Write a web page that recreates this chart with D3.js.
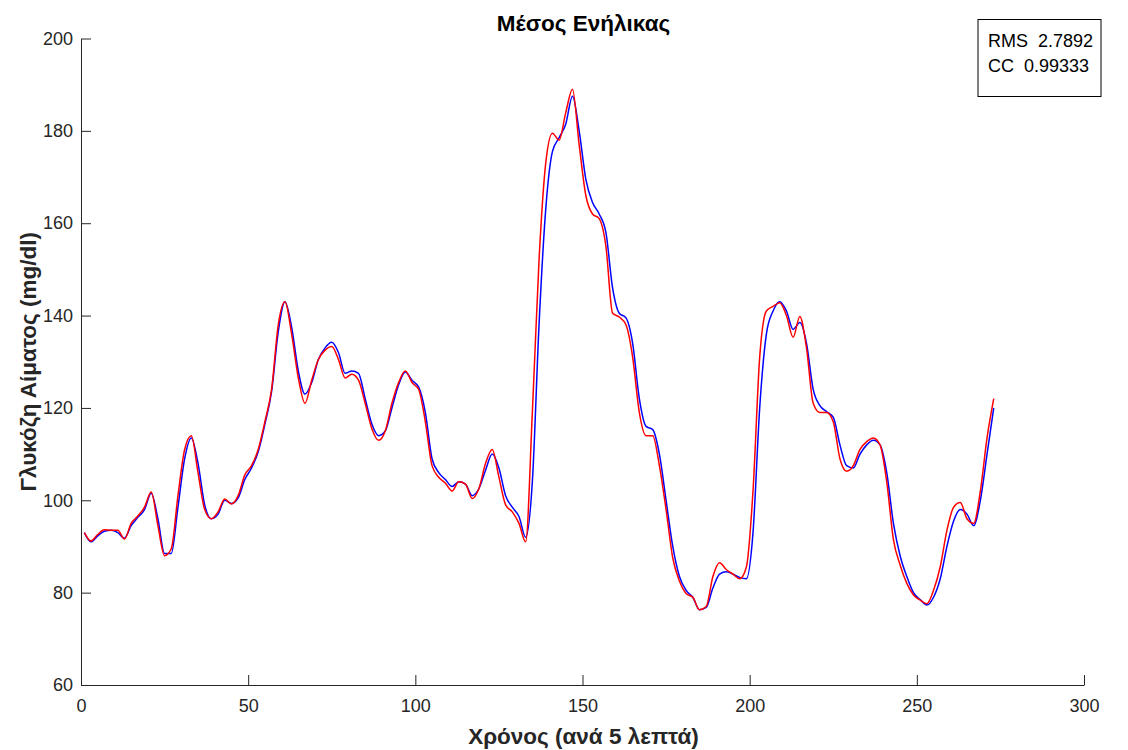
<!DOCTYPE html>
<html>
<head>
<meta charset="utf-8">
<script src="https://cdn.jsdelivr.net/npm/d3@7"></script>
<style>
  body { margin: 0; background: #fff; }
  svg { display: block; font-family: "Liberation Sans", Arial, sans-serif; }
</style>
</head>
<body>
<svg></svg>
<script>
// sample times (every 2nd 5-minute step)
const times = d3.range(1, 274, 2)

// red series (measured)
const redValues = [
  93.0, 91.2, 92.6, 93.6, 93.5, 93.5, 91.6, 95.0, 96.6, 98.5,
  101.8, 94.5, 88.0, 89.5, 101, 111, 114, 106, 98, 96,
  97.5, 100.3, 99.2, 101, 105.5, 107.5, 111, 117, 124, 138,
  143, 136, 126.5, 121, 126, 130.5, 132.5, 133.3, 130.5, 126.5,
  127.3, 126, 121, 115.5, 113, 115, 121, 125.5, 128, 125.5,
  124, 117, 107.5, 105, 103.7, 102, 104, 103.5, 100.4, 102.5,
  108, 111, 105, 99, 97.5, 95, 91, 119, 152, 173,
  179.5, 178, 184, 189, 177, 166, 162, 161, 155, 140.5,
  139.7, 138, 131, 119, 114, 114, 107.5, 98, 87.5, 82.5,
  79.8, 79, 76.3, 77, 83.5, 86.5, 85, 84, 83, 85.5,
  102, 131, 141, 142, 142.8, 140, 135.3, 139.8, 133, 121,
  119, 119, 117, 109, 106.3, 107.5, 111, 112.7, 113.5, 112,
  104, 91.5, 86, 82, 79.5, 78.4, 77.6, 80.5, 85.6, 93.5,
  98.5, 99.5, 96, 95, 102, 113.5, 122
]

// blue series (estimated)
const blueValues = [
  93.0, 91.0, 92.3, 93.3, 93.5, 93.0, 91.8, 94.5, 96.3, 98.0,
  101.5, 96, 88.5, 88.5, 98.5, 109, 113.5, 108, 99, 96,
  97, 100, 99.3, 100.5, 104.5, 107, 110.5, 116.5, 123.5, 136.5,
  143, 137.5, 128, 123, 125.5, 130.5, 133, 134.2, 132, 127.5,
  128, 127.5, 122, 116.5, 114, 115, 120, 125, 127.8, 126,
  124.5, 119, 109, 106, 104.5, 103, 104, 103.5, 101, 102.5,
  106.5, 110, 107, 101, 98.5, 96.5, 92, 104, 138, 163,
  175.5, 178.5, 181.5, 187.5, 180, 169.5, 164.5, 162, 158, 146,
  140.5, 139.5, 134, 122, 116, 115.3, 110, 100, 90, 83.5,
  80.5, 79, 76.3, 76.8, 81, 84, 84.5, 84, 83.3, 83,
  93, 120, 136, 141, 143, 141, 137, 138.5, 134, 124,
  120.5, 119.2, 118, 112, 107.5, 107, 110, 112, 113, 112,
  106, 95, 88, 83.5, 80, 78.5, 77.3, 79, 83, 90,
  95.5, 98, 97, 94.5, 100, 110, 120
]

const xTicks = [0, 50, 100, 150, 200, 250, 300]
const yTicks = [60, 80, 100, 120, 140, 160, 180, 200]
const statLabels = ['RMS', 'CC']
const statValues = ['2.7892', '0.99333']

const width = 1128
const height = 750
const plotLeft = 81
const plotRight = 1084
const plotTop = 38.5
const plotBottom = 685
const axisColor = '#262626'

const svg = d3.select('svg')
              .attr('width', width)
              .attr('height', height)

const xScale = d3.scaleLinear().domain([0, 300]).range([plotLeft, plotRight])
const yScale = d3.scaleLinear().domain([60, 200]).range([plotBottom, plotTop])

const xAxis = d3.axisBottom(xScale)
                .tickValues(xTicks)
                .tickSizeInner(-10)
                .tickSizeOuter(0)
                .tickPadding(14)

const yAxis = d3.axisLeft(yScale)
                .tickValues(yTicks)
                .tickSizeInner(-10)
                .tickSizeOuter(0)
                .tickPadding(8)

const styleAxis = g => {
  g.select('.domain').attr('stroke', axisColor)
  g.selectAll('.tick line').attr('stroke', axisColor)
  g.selectAll('.tick text')
   .attr('fill', axisColor)
   .style('font-size', '18px')
   .style('font-family', '"Liberation Sans", Arial, sans-serif')
}

svg.append('g')
   .attr('transform', `translate(0, ${plotBottom})`)
   .call(xAxis)
   .call(styleAxis)

svg.append('g')
   .attr('transform', `translate(${plotLeft}, 0)`)
   .call(yAxis)
   .call(styleAxis)

const line = values => d3.line()
  .curve(d3.curveMonotoneX)
  .x((d, i) => xScale(times[i]))
  .y(d => yScale(d))(values)

svg.append('path')
   .attr('d', line(blueValues))
   .attr('fill', 'none')
   .attr('stroke', '#0000ff')
   .attr('stroke-width', 1.5)

svg.append('path')
   .attr('d', line(redValues))
   .attr('fill', 'none')
   .attr('stroke', '#ff0000')
   .attr('stroke-width', 1.5)

// title and axis labels
svg.append('text')
   .text('Μέσος Ενήλικας')
   .attr('x', (plotLeft + plotRight) / 2 + 1)
   .attr('y', 31)
   .attr('text-anchor', 'middle')
   .style('font-weight', 'bold')
   .style('font-size', '22.5px')
   .attr('fill', '#000')

svg.append('text')
   .text('Χρόνος (ανά 5 λεπτά)')
   .attr('x', (plotLeft + plotRight) / 2 + 1)
   .attr('y', 744)
   .attr('text-anchor', 'middle')
   .style('font-weight', 'bold')
   .style('font-size', '22.5px')
   .attr('fill', axisColor)

svg.append('text')
   .text('Γλυκόζη Αίματος (mg/dl)')
   .attr('transform', `translate(36, ${(plotTop + plotBottom) / 2})rotate(-90)`)
   .attr('text-anchor', 'middle')
   .style('font-weight', 'bold')
   .style('font-size', '22.5px')
   .attr('fill', axisColor)

// stats box
const box = svg.append('g')
box.append('rect')
   .attr('x', 978)
   .attr('y', 19.5)
   .attr('width', 123)
   .attr('height', 77)
   .attr('fill', '#fff')
   .attr('stroke', '#000')
   .attr('stroke-width', 1)

box.selectAll('text')
   .data(statLabels)
   .join('text')
   .attr('x', 988)
   .attr('y', (d, i) => 47 + i * 25)
   .style('font-size', '18px')
   .style('white-space', 'pre')
   .attr('fill', '#000')
   .text((d, i) => `${d}  ${statValues[i]}`)
</script>
</body>
</html>
